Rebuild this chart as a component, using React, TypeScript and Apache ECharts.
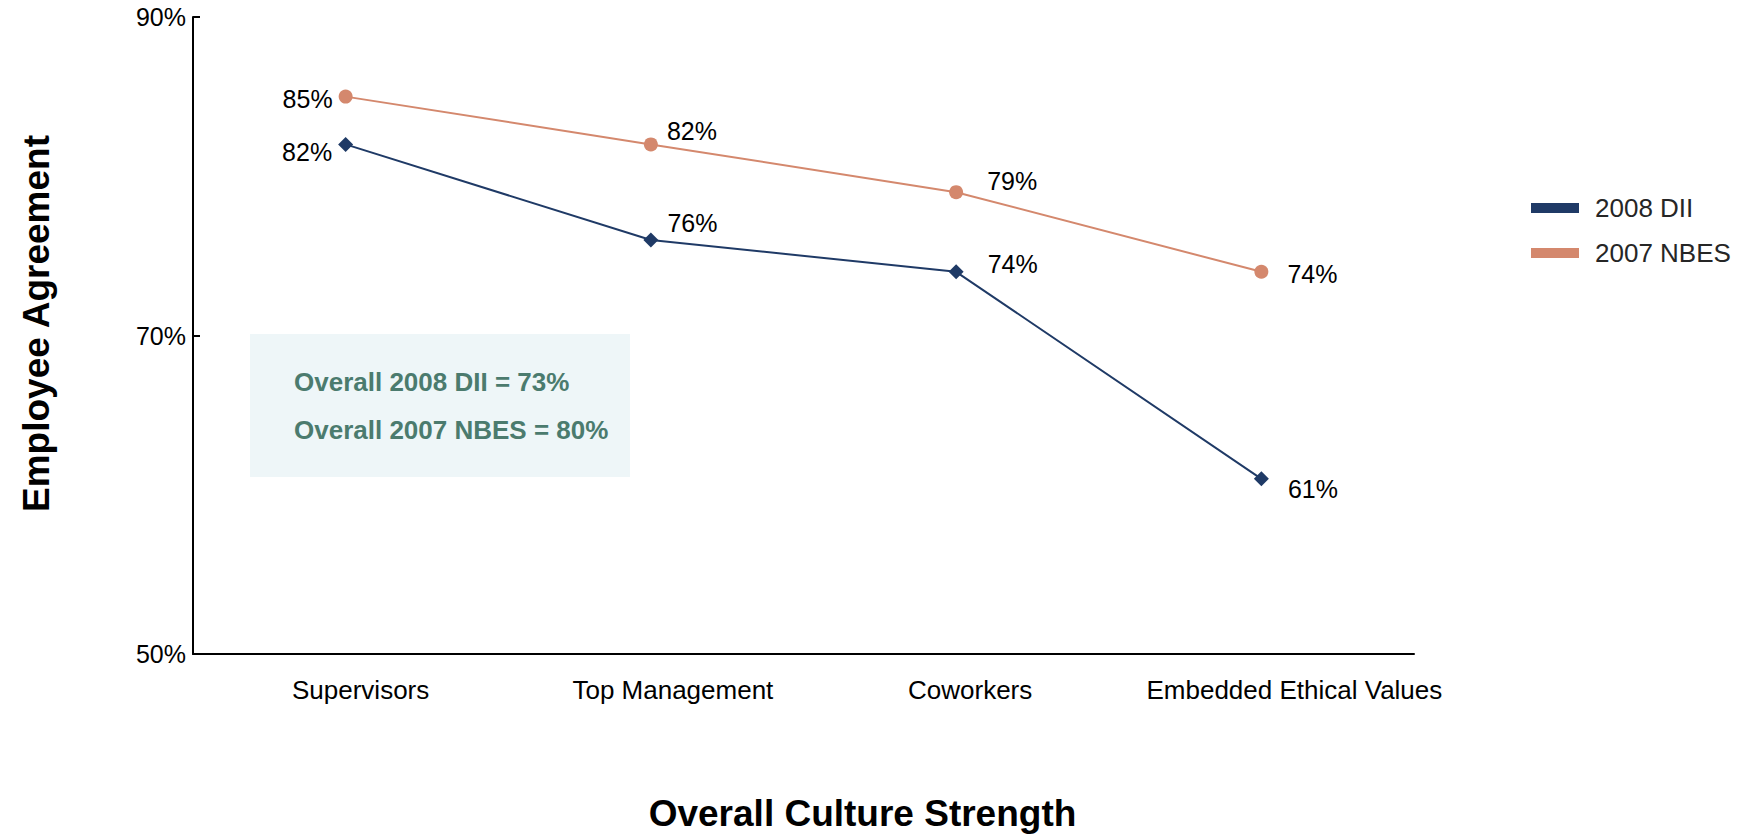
import React, { useEffect, useRef } from "react";
import * as echarts from "echarts";

const categories = ["Supervisors", "Top Management", "Coworkers", "Embedded Ethical Values"];
const dii2008 = [82, 76, 74, 61];
const nbes2007 = [85, 82, 79, 74];
const seriesNames = ["2008 DII", "2007 NBES"];
const overallLines = ["Overall 2008 DII = 73%", "Overall 2007 NBES = 80%"];

// label placement (style only)
const diiLabelPos = ["left", "right", "right", "right"];
const diiLabelOffset = [[-1, 8], [4, -17], [19, -8], [14, 10]];
const nbesLabelPos = ["left", "right", "right", "right"];
const nbesLabelOffset = [[-1, 2], [4, -13], [19, -11], [14, 2]];
const catLabelPad = [30, 44, 28, 66];

const NAVY = "#1F3A66";
const SALMON = "#D4886D";
const FONT = "Arial, 'Liberation Sans', Helvetica, sans-serif";

export default function App() {
  const ref = useRef<HTMLDivElement>(null);
  useEffect(() => {
    document.body.style.margin = "0";
    const chart = echarts.init(ref.current!, null, { renderer: "svg" });
    const mkData = (vals: number[], pos: string[], off: number[][]) =>
      vals.map((v, i) => ({
        value: v,
        label: { position: pos[i], offset: off[i] },
      }));
    const rich: any = {};
    catLabelPad.forEach((p, i) => {
      rich["c" + i] = { fontSize: 26, fontFamily: FONT, color: "#000", padding: [0, 0, 0, p] };
    });
    chart.setOption({
      animation: false,
      textStyle: { fontFamily: FONT },
      grid: { left: 193, right: 325, top: 17, bottom: 181, containLabel: false, outerBoundsMode: "none" },
      legend: {
        orient: "vertical",
        left: 1526,
        top: 190,
        itemWidth: 48,
        itemHeight: 10,
        itemGap: 19,
        icon: "rect",
        data: seriesNames,
        textStyle: { fontSize: 26, color: "#262626", fontFamily: FONT, padding: [0, 0, 0, 11] },
      },
      xAxis: {
        type: "category",
        data: categories,
        boundaryGap: true,
        axisLine: { lineStyle: { color: "#000", width: 2 } },
        axisTick: { show: false },
        axisLabel: {
          margin: 23,
          interval: 0,
          formatter: (val: string, idx: number) => `{c${idx}|${val}}`,
          rich,
        },
        name: "Overall Culture Strength",
        nameLocation: "middle",
        nameGap: 141,
        nameTextStyle: { fontSize: 37, fontWeight: "bold", color: "#000", fontFamily: FONT, padding: [0, 0, 0, 118] },
      },
      yAxis: {
        type: "value",
        min: 50,
        max: 90,
        interval: 20,
        splitLine: { show: false },
        axisLine: { show: true, lineStyle: { color: "#000", width: 2 } },
        axisTick: { show: true, inside: true, length: 7, lineStyle: { color: "#000", width: 2 } },
        axisLabel: { formatter: "{value}%", fontSize: 25, color: "#000", margin: 7, padding: [8, 0, 0, 0], fontFamily: FONT },
        name: "Employee Agreement",
        nameLocation: "middle",
        nameRotate: 90,
        nameGap: 138,
        nameTextStyle: { fontSize: 37, fontWeight: "bold", color: "#000", fontFamily: FONT, padding: [0, 0, 0, 24] },
      },
      series: [
        {
          name: seriesNames[0],
          type: "line",
          data: mkData(dii2008, diiLabelPos, diiLabelOffset),
          symbol: "diamond",
          symbolSize: 15,
          itemStyle: { color: NAVY },
          lineStyle: { color: NAVY, width: 2 },
          label: { show: true, formatter: "{c}%", fontSize: 25, color: "#000", distance: 5, fontFamily: FONT },
          z: 3,
        },
        {
          name: seriesNames[1],
          type: "line",
          data: mkData(nbes2007, nbesLabelPos, nbesLabelOffset),
          symbol: "circle",
          symbolSize: 14,
          itemStyle: { color: SALMON },
          lineStyle: { color: SALMON, width: 2 },
          label: { show: true, formatter: "{c}%", fontSize: 25, color: "#000", distance: 5, fontFamily: FONT },
          z: 3,
        },
      ],
      graphic: [
        {
          type: "rect",
          left: 250,
          top: 334,
          shape: { width: 380, height: 143 },
          style: { fill: "#EEF6F8" },
          z: 0,
        },
        {
          type: "text",
          left: 294,
          top: 369,
          style: { text: overallLines[0], fontSize: 26, fontWeight: "bold", fill: "#4B7B6E", fontFamily: FONT },
          z: 1,
        },
        {
          type: "text",
          left: 294,
          top: 417,
          style: { text: overallLines[1], fontSize: 26, fontWeight: "bold", fill: "#4B7B6E", fontFamily: FONT },
          z: 1,
        },
      ],
    });
    return () => chart.dispose();
  }, []);
  return <div ref={ref} style={{ width: 1739, height: 835 }} />;
}
